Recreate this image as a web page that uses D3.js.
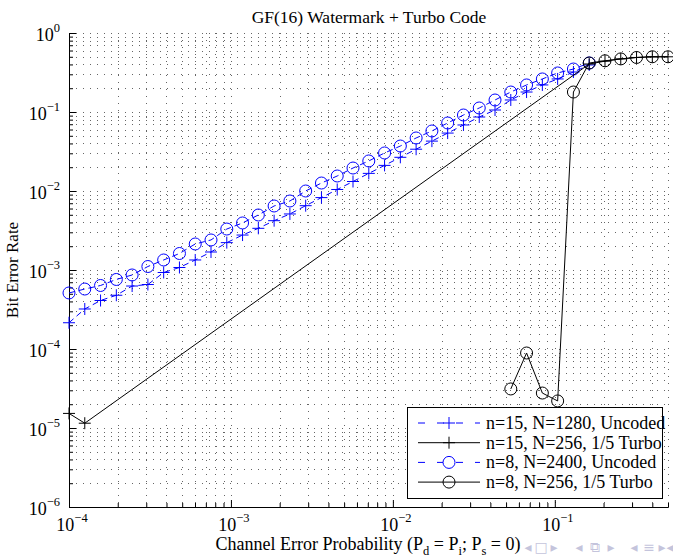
<!DOCTYPE html>
<html><head><meta charset="utf-8">
<script src="https://cdn.jsdelivr.net/npm/d3@7"></script>
<style>
body{margin:0;background:#fff;}
svg{display:block;font-family:"Liberation Serif","Times New Roman",serif;}
</style></head><body>
<svg id="chart" width="673" height="560"></svg>
<script>
// ---------------- data ----------------
const chartTitle = "GF(16) Watermark + Turbo Code";
const xLabelParts = [["Channel Error Probability (P",0],["d",1],[" = P",0],["i",1],["; P",0],["s",1],[" = 0)",0]];
const yLabel = "Bit Error Rate";

// channel error probability grid (39 points, 1e-4 .. 0.5)
const pErr = [1.0000e-4,1.2515e-4,1.5663e-4,1.9602e-4,2.4532e-4,3.0702e-4,3.8424e-4,4.8088e-4,
  6.0183e-4,7.5320e-4,9.4264e-4,1.1797e-3,1.4764e-3,1.8478e-3,2.3125e-3,2.8942e-3,3.6221e-3,
  4.5331e-3,5.6732e-3,7.1001e-3,8.8859e-3,1.1121e-2,1.3918e-2,1.7418e-2,2.1799e-2,2.7282e-2,
  3.4144e-2,4.2732e-2,5.3480e-2,6.6931e-2,8.3765e-2,0.10412,0.13030,0.16308,0.20410,0.25543,
  0.31968,0.40008,0.50000];

// n=15, N=1280, Uncoded (first 34 points)
const berN15Uncoded = [2.15e-4,3.21e-4,4.11e-4,4.79e-4,6.27e-4,6.55e-4,9.30e-4,1.076e-3,1.339e-3,
  1.69e-3,2.22e-3,2.77e-3,3.37e-3,4.21e-3,5.12e-3,6.52e-3,8.25e-3,1.045e-2,1.319e-2,1.671e-2,
  2.11e-2,2.67e-2,3.38e-2,4.28e-2,5.41e-2,6.85e-2,8.64e-2,0.106,0.142,0.179,0.220,0.262,0.321,0.394];

// n=8, N=2400, Uncoded (first 34 points)
const berN8Uncoded = [5.12e-4,5.74e-4,6.37e-4,7.59e-4,8.65e-4,1.107e-3,1.339e-3,1.618e-3,2.135e-3,
  2.40e-3,3.30e-3,3.94e-3,4.97e-3,6.46e-3,7.47e-3,1.0e-2,1.262e-2,1.549e-2,1.954e-2,2.40e-2,
  3.03e-2,3.71e-2,4.69e-2,5.75e-2,7.26e-2,9.16e-2,0.1124,0.1419,0.179,0.220,0.262,0.312,0.350,0.417];

// n=15, N=256, 1/5 Turbo (zero-BER points omitted)
const turboN15X = [1.0000e-4,1.2515e-4,0.16308,0.20410,0.25543,0.31968,0.40008,0.50000];
const turboN15  = [1.53e-5,1.15e-5,0.405,0.44,0.47,0.49,0.50,0.50];

// n=8, N=256, 1/5 Turbo (zero-BER points omitted)
const turboN8X = [5.3480e-2,6.6931e-2,8.3765e-2,0.10412,0.13030,0.16308,0.20410,0.25543,0.31968,0.40008,0.50000];
const turboN8  = [3.12e-5,8.9e-5,2.77e-5,2.20e-5,0.179,0.417,0.445,0.47,0.49,0.50,0.50];

const legendLabels = ["n=15, N=1280, Uncoded","n=15, N=256, 1/5 Turbo","n=8, N=2400, Uncoded","n=8, N=256, 1/5 Turbo"];
const xTickValues = [1e-4,1e-3,1e-2,1e-1];
const xTickExps = ["\u22124","\u22123","\u22122","\u22121"];
const yTickValues = [1e-6,1e-5,1e-4,1e-3,1e-2,1e-1,1e0];
const yTickExps = ["\u22126","\u22125","\u22124","\u22123","\u22122","\u22121","0"];
const navGlyphs = ["\u25C2","\u25A1","\u25B8","\u25C2","\u29C9","\u25B8","\u25C2","\u2261","\u25B8","\u25C2"];
const navX = [528,541,554,579,595,611,634,649,662,670];

// ---------------- layout ----------------
const L=69, R=668, T=33, B=507;
const svg = d3.select("#chart");
const x = d3.scaleLog().domain([1e-4,0.5]).range([L,R]);
const y = d3.scaleLog().domain([1e-6,1]).range([B,T]);
const blue = "#0000ff";

// grid (dotted, at major+minor ticks)
const gGrid = svg.append("g").attr("stroke","#666").attr("stroke-width",1).attr("stroke-dasharray","1,6");
x.ticks().forEach(v=>{ gGrid.append("line").attr("x1",Math.round(x(v))+0.5).attr("x2",Math.round(x(v))+0.5).attr("y1",T).attr("y2",B); });
y.ticks().forEach(v=>{ gGrid.append("line").attr("y1",Math.round(y(v))+0.5).attr("y2",Math.round(y(v))+0.5).attr("x1",L).attr("x2",R); });

// axes (ticks inside)
const minorX = x.ticks().filter(v=>!xTickValues.includes(v));
const minorY = y.ticks().filter(v=>!yTickValues.includes(v));
function styleAxis(g){ g.selectAll("text").remove(); g.select(".domain").attr("stroke","#000"); g.selectAll("line").attr("stroke","#000"); }
svg.append("g").attr("transform",`translate(0,${B})`).call(d3.axisBottom(x).tickValues(xTickValues).tickSizeInner(-7).tickSizeOuter(0).tickFormat("")).call(styleAxis);
svg.append("g").attr("transform",`translate(0,${B})`).call(d3.axisBottom(x).tickValues(minorX).tickSizeInner(-4).tickSizeOuter(0).tickFormat("")).call(styleAxis);
svg.append("g").attr("transform",`translate(${L},0)`).call(d3.axisLeft(y).tickValues(yTickValues).tickSizeInner(-7).tickSizeOuter(0).tickFormat("")).call(styleAxis);
svg.append("g").attr("transform",`translate(${L},0)`).call(d3.axisLeft(y).tickValues(minorY).tickSizeInner(-4).tickSizeOuter(0).tickFormat("")).call(styleAxis);

// tick labels with superscripts
xTickValues.forEach((v,i)=>{
  const t = svg.append("text").attr("x",x(v)+3).attr("y",531).attr("text-anchor","middle").attr("font-size",18);
  t.append("tspan").text("10");
  t.append("tspan").attr("dy",-9).attr("font-size",12.5).text(xTickExps[i]);
});
yTickValues.forEach((v,i)=>{
  const t = svg.append("text").attr("x",60).attr("y",y(v)+8).attr("text-anchor","end").attr("font-size",18);
  t.append("tspan").text("10");
  t.append("tspan").attr("dy",-9).attr("font-size",12.5).text(yTickExps[i]);
});

// series helpers
const line = d3.line().x(d=>x(d[0])).y(d=>y(d[1]));
function plusPath(cx,cy,s){ return `M${cx-s},${cy}H${cx+s}M${cx},${cy-s}V${cy+s}`; }
function drawSeries(xs, ys, color, dash, marker){
  const pts = ys.map((v,i)=>[xs[i],v]);
  const g = svg.append("g");
  g.append("path").attr("d",line(pts)).attr("fill","none").attr("stroke",color).attr("stroke-width",1)
    .attr("stroke-dasharray",dash);
  pts.forEach(p=>{
    if(marker==="o") g.append("circle").attr("cx",x(p[0])).attr("cy",y(p[1])).attr("r",6).attr("fill","none").attr("stroke",color).attr("stroke-width",1);
    else g.append("path").attr("d",plusPath(x(p[0]),y(p[1]),6)).attr("stroke",color).attr("stroke-width",1).attr("fill","none");
  });
}
drawSeries(pErr.slice(0,berN15Uncoded.length), berN15Uncoded, blue, "6,4", "+");
drawSeries(pErr.slice(0,berN8Uncoded.length), berN8Uncoded, blue, "6,4", "o");
drawSeries(turboN15X, turboN15, "#000", null, "+");
drawSeries(turboN8X, turboN8, "#000", null, "o");

// legend
const lg = svg.append("g");
lg.append("rect").attr("x",407.5).attr("y",407.5).attr("width",255).attr("height",91).attr("fill","#fff").attr("stroke","#000").attr("stroke-width",1);
const legendStyles = [[blue,"7,12","+"],["#000",null,"+"],[blue,"7,12","o"],["#000",null,"o"]];
legendLabels.forEach((lab,i)=>{
  const ry = 423 + i*19.7;
  const [c,dash,mk] = legendStyles[i];
  lg.append("line").attr("x1",418).attr("x2",480).attr("y1",ry).attr("y2",ry).attr("stroke",c).attr("stroke-width",1).attr("stroke-dasharray",dash);
  if(mk==="o") lg.append("circle").attr("cx",449).attr("cy",ry).attr("r",6).attr("fill",dash?"#fff":"none").attr("stroke",c);
  else lg.append("path").attr("d",plusPath(449,ry,6)).attr("stroke",c).attr("fill","none");
  lg.append("text").attr("x",486).attr("y",ry+6).attr("font-size",18).text(lab);
});

// titles
svg.append("text").attr("x",369).attr("y",23).attr("text-anchor","middle").attr("font-size",17.5).text(chartTitle);
const xl = svg.append("text").attr("x",368).attr("y",550).attr("text-anchor","middle").attr("font-size",18);
xLabelParts.forEach(([s,sub],i)=>{
  const ts = xl.append("tspan").text(s);
  if(sub){ ts.attr("dy",5).attr("font-size",12.5); }
  else if(i>0){ ts.attr("dy",-5); }
});
svg.append("text").attr("transform","translate(18,270) rotate(-90)").attr("text-anchor","middle").attr("font-size",17).text(yLabel);

// beamer navigation symbols
navGlyphs.forEach((g,i)=>{
  svg.append("text").attr("x",navX[i]).attr("y",552).attr("text-anchor","middle")
    .attr("font-family","DejaVu Sans").attr("font-size",14).attr("fill","#c4c4dc").text(g);
});
</script>
</body></html>
